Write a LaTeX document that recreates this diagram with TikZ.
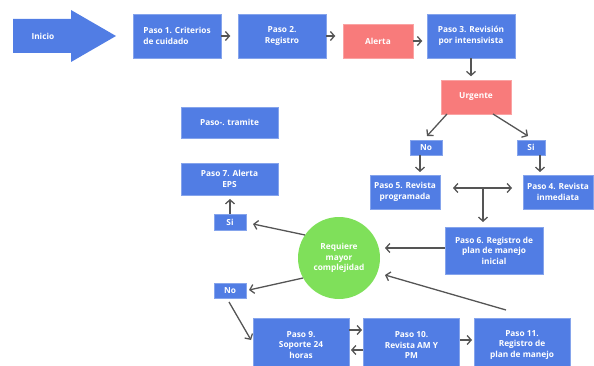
\documentclass[tikz,border=0pt]{standalone}
\usepackage{fontspec}
\setmainfont{Open Sans}
\usetikzlibrary{arrows.meta}
\definecolor{bblue}{HTML}{517DE4}
\definecolor{rred}{HTML}{F87B7B}
\definecolor{ggreen}{HTML}{7FE05A}
\definecolor{agray}{HTML}{555555}
\tikzset{
  txt/.style={text=white, font=\bfseries\fontsize{8.3}{10.5}\selectfont},
  box/.style={txt, fill=bblue, draw=bblue!70!white, line width=0.5pt, align=center, inner sep=1pt},
  rbox/.style={box, fill=rred, draw=rred!70!white},
  conn/.style={draw=agray, line width=1.3pt, -{Straight Barb[length=4pt,width=9pt]}},
}
\begin{document}
\begin{tikzpicture}[x=1pt,y=-1pt]
\useasboundingbox (0,0) rectangle (594,366);
% Inicio arrow
\fill[bblue] (13,19) -- (71,19) -- (71,10) -- (116,36) -- (71,62) -- (71,53) -- (13,53) -- cycle;
\node[txt, anchor=west] (inicio) at (28,36) {Inicio};
% top row
\node[box, minimum width=88pt, minimum height=44pt, align=left] (p1) at (177,36) {Paso 1. Criterios\\de cuidado};
\node[box, minimum width=88pt, minimum height=44pt] (p2) at (282,36) {Paso 2.\\Registro};
\node[rbox, minimum width=70pt, minimum height=34pt] (alerta) at (378,41) {Alerta};
\node[box, minimum width=88pt, minimum height=44pt] (p3) at (471,36) {Paso 3. Revisión\\por intensivista};
\node[rbox, minimum width=70pt, minimum height=34pt] (urg) at (476,97) {Urgente};
\node[box, minimum width=32pt, minimum height=15pt] (no1) at (426,147.5) {No};
\node[box, minimum width=28pt, minimum height=15pt] (si1) at (531,147.5) {Si};
\node[box, minimum width=70pt, minimum height=34pt] (p5) at (405,192) {Paso 5. Revista\\programada};
\node[box, minimum width=70pt, minimum height=34pt] (p4) at (558,192) {Paso 4. Revista\\inmediata};
\node[box, minimum width=98pt, minimum height=47pt] (p6) at (494,250.5) {Paso 6. Registro de\\plan de manejo\\inicial};
\node[txt, circle, fill=ggreen, minimum size=82pt, inner sep=0pt, align=center] (req) at (339,258) {Requiere\\mayor\\complejidad};
\node[box, minimum width=32pt, minimum height=16pt] (si2) at (230,222) {Si};
\node[box, minimum width=97pt, minimum height=32pt] (p7) at (229.5,179) {Paso 7. Alerta\\EPS};
\node[box, minimum width=97pt, minimum height=31pt] (tram) at (229.5,122.5) {Paso-. tramite};
\node[box, minimum width=32pt, minimum height=15pt] (no2) at (230,290.5) {No};
\node[box, minimum width=96pt, minimum height=54pt] (p9) at (301,345) {Paso 9.\\Soporte 24\\horas};
\node[box, minimum width=96pt, minimum height=54pt] (p10) at (411.5,345) {Paso 10.\\Revista AM Y\\PM};
\node[box, minimum width=96pt, minimum height=54pt] (p11) at (522,345) {Paso 11.\\Registro de\\plan de manejo};
% connectors
\draw[conn] (p1.east) -- ++(9,0);
\draw[conn] (p2.east) -- ++(9,0);
\draw[conn] (alerta.east) -- ++(9,0);
\draw[conn] (p3.south) -- ++(0,18);
\coordinate (ua) at (447,114);
\coordinate (ub) at (493,114);
\draw[conn] (ua) -- (427,136);
\draw[conn] (ub) -- (528,136);
\coordinate (na) at (420,155);
\coordinate (sa) at (540,155);
\draw[conn] (na) -- (420,172);
\draw[conn] (sa) -- (540,172);
\coordinate (dm) at (483,188);
\draw[conn] (dm) -- (453,188);
\draw[conn] (dm) -- (512,188);
\draw[conn] (dm) -- (483,222);
\draw[conn] (p6.west |- 0,248) -- (385,248);
\coordinate (c1) at (305,235);
\draw[conn] (c1) -- (253,224);
\draw[conn] (si2.north) -- (230,199);
\coordinate (c2) at (303,278);
\draw[conn] (c2) -- (249,290);
\coordinate (n2) at (229,302);
\draw[conn] (n2) -- (251,340);
\draw[conn] (p9.east |- 0,330) -- (362,330);
\draw[conn] (p10.west |- 0,350) -- (351,350);
\draw[conn] (p10.east |- 0,340) -- (472,340);
\coordinate (c3) at (506,310);
\draw[conn] (c3) -- (385,275);
\end{tikzpicture}
\end{document}
